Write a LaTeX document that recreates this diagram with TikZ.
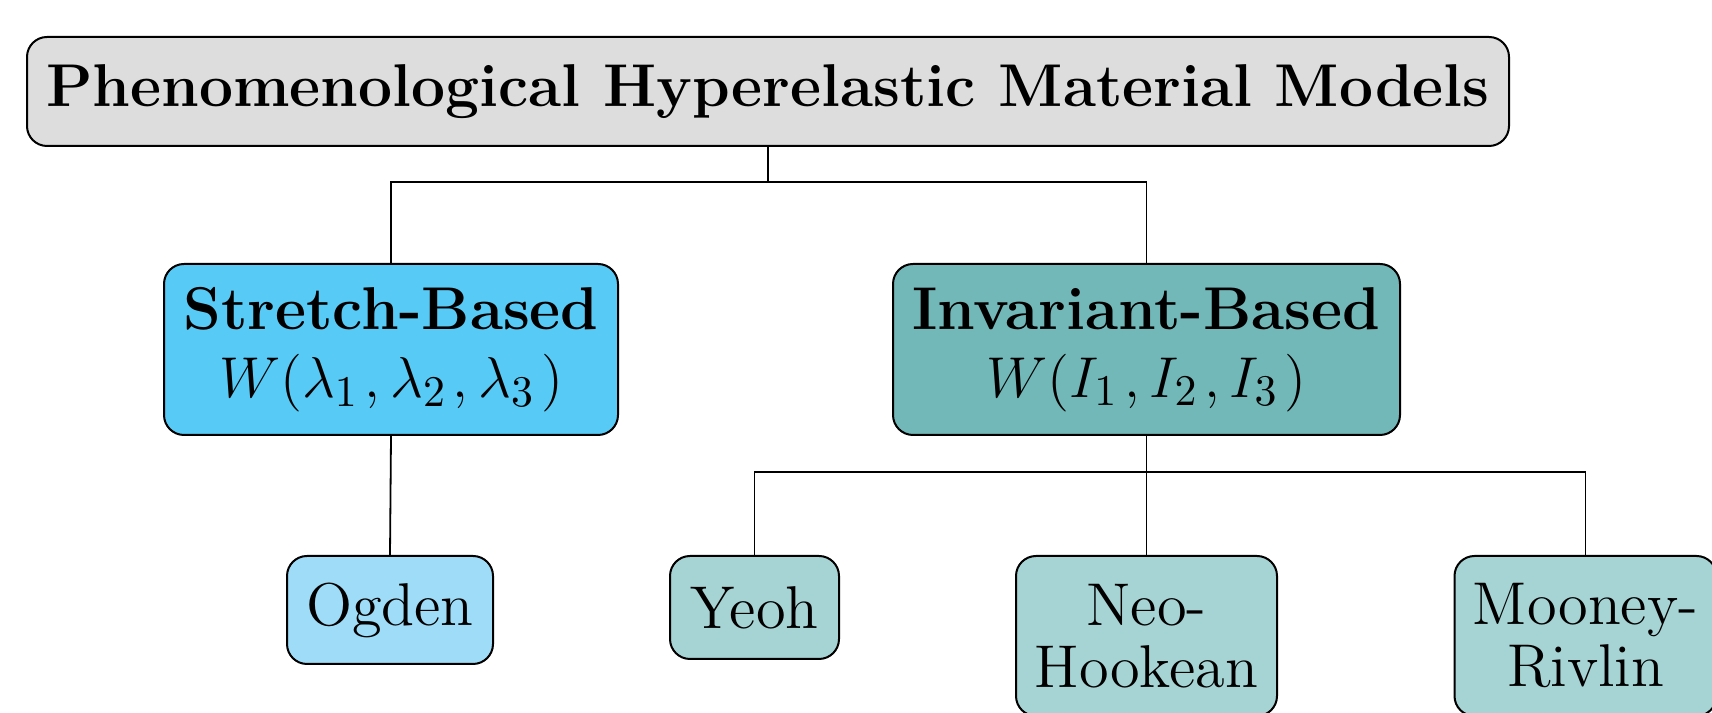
\documentclass[tikz,border=0pt]{standalone}
\usepackage{amsmath}
\definecolor{titlegray}{RGB}{221,221,221}
\definecolor{stretchblue}{RGB}{87,202,245}
\definecolor{invteal}{RGB}{114,184,184}
\definecolor{ogdenblue}{RGB}{158,220,247}
\definecolor{modelteal}{RGB}{166,211,211}
\font\modelfont="[lmroman12-regular]:mapping=tex-text" at 15.1pt
\newcommand{\classfont}{\fontsize{15.1}{17}\selectfont\setlength{\scriptspace}{2pt}}
\begin{document}
\begin{tikzpicture}
[x=0.25pt,y=-0.25pt,
  boxdecorate/.style={shape=rectangle,draw,line width=0.5pt,rounded corners=5pt,
    align=center,inner sep=0pt},%
  titledecorate/.style={boxdecorate,fill=titlegray,font=\fontsize{15.1}{18}\selectfont\bfseries},%
  classdecorate/.style={boxdecorate,font=\classfont},%
  modeldecorate/.style={boxdecorate,anchor=north,font={\modelfont\baselineskip=15.5pt}},%
  linkdecorate/.style={line width=0.45pt}]
\useasboundingbox (0,0) rectangle (1712,713);
% nodes or vertices
\node (title) at (768,91.5) [titledecorate,minimum width=370.5pt,minimum height=27.25pt]
  {Phenomenological Hyperelastic Material Models};
\node (stretch) at (391,349.5) [classdecorate,fill=stretchblue,minimum width=113.5pt,minimum height=42.75pt]
  {\textbf{Stretch-Based}\\$W(\lambda_1,\lambda_2,\lambda_3)$};
\node (invariant) at (1146.5,349.5) [classdecorate,fill=invteal,minimum width=126.75pt,minimum height=42.75pt]
  {\textbf{Invariant-Based}\\$W(I_1,I_2,I_3)$};
\node (ogden) at (390,555) [modeldecorate,fill=ogdenblue,minimum width=51.5pt,minimum height=27pt] {Ogden};
\node (yeoh) at (754.5,555) [modeldecorate,fill=modelteal,minimum width=42.25pt,minimum height=25.75pt] {Yeoh};
\node (neo) at (1146.5,555) [modeldecorate,fill=modelteal,minimum width=65.25pt,minimum height=40pt] {Neo-\\Hookean};
\node (mooney) at (1585.5,555) [modeldecorate,fill=modelteal,minimum width=65.5pt,minimum height=40pt] {Mooney-\\Rivlin};
% junction points
\coordinate (jtop) at (768,182);
\coordinate (jinv) at (1146.5,472);
% edges or lines
\draw[linkdecorate] (title.south) -- (jtop);
\draw[linkdecorate] (stretch.north) |- (jtop) -| (invariant.north);
\draw[linkdecorate] (stretch.south) -- (ogden.north);
\draw[linkdecorate] (invariant.south) -- (neo.north);
\draw[linkdecorate] (yeoh.north) |- (jinv) -| (mooney.north);
\end{tikzpicture}
\end{document}
